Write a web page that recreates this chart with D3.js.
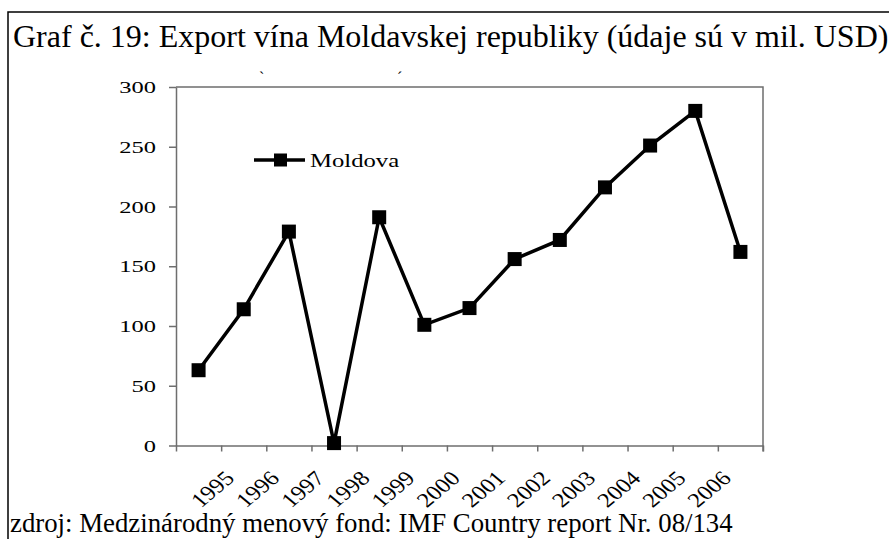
<!DOCTYPE html>
<html lang="sk">
<head>
<meta charset="utf-8">
<script src="https://d3js.org/d3.v7.min.js"></script>
<style>
body { margin: 0; background: #fff; }
svg { display: block; font-family: "Liberation Serif", "Times New Roman", serif; }
.axis path, .axis line { stroke: #6e6e6e; stroke-width: 1.5; }
.series { fill: none; stroke: #000; stroke-width: 3.5; stroke-linejoin: miter; }
</style>
</head>
<body>
<div id="chart"></div>
<script>
// chart data
var yearLabels = ["1995", "1996", "1997", "1998", "1999", "2000",
                  "2001", "2002", "2003", "2004", "2005", "2006"];
var exportValues = [63, 114, 179, 2, 191, 101, 115, 156, 172, 216, 251, 280, 162];
var yTicks = [0, 50, 100, 150, 200, 250, 300];
var seriesName = "Moldova";
var titleText = "Graf č. 19: Export vína Moldavskej republiky (údaje sú v mil. USD)";
var sourceText = "zdroj: Medzinárodný menový fond: IMF Country report Nr. 08/134";

var width = 889,
    height = 539,
    plot = {left: 176, right: 763, top: 87, bottom: 445.5};

var svg = d3.select("#chart")
    .append("svg")
    .attr("width", width)
    .attr("height", height);

// frame round the figure (top and left edge only)
svg.append("path")
    .attr("d", "M8,539V12H889")
    .attr("fill", "none")
    .attr("stroke", "#000")
    .attr("stroke-width", 1.5);

svg.append("text")
    .attr("x", 13)
    .attr("y", 47)
    .attr("font-size", 32)
    .text(titleText);

svg.append("text")
    .attr("x", 10)
    .attr("y", 532)
    .attr("font-size", 26.8)
    .text(sourceText);

var x = d3.scaleLinear()
    .domain([0, exportValues.length])
    .range([plot.left, plot.right]);

var y = d3.scaleLinear()
    .domain([0, 300])
    .range([plot.bottom, plot.top]);

// plot border top and right
svg.append("path")
    .attr("d", "M" + plot.left + "," + plot.top + "H" + plot.right + "V" + (plot.bottom + 6))
    .attr("fill", "none")
    .attr("stroke", "#6e6e6e")
    .attr("stroke-width", 1.5);

var yAxis = svg.append("g")
    .attr("class", "axis")
    .attr("transform", "translate(" + plot.left + ",0)")
    .call(d3.axisLeft(y).tickValues(yTicks).tickSize(7).tickSizeOuter(0));

// the lettering is drawn wide in the original
yAxis.selectAll("text")
    .attr("x", null)
    .style("font-family", "'Liberation Serif', serif")
    .style("font-size", "17.5px")
    .attr("fill", "#000")
    .attr("transform", "translate(-20,0) scale(1.4,1)");

var xAxis = svg.append("g")
    .attr("class", "axis")
    .attr("transform", "translate(0," + plot.bottom + ")")
    .call(d3.axisBottom(x)
        .tickValues(d3.range(0, exportValues.length + 1))
        .tickSize(6)
        .tickSizeOuter(0)
        .tickFormat(function (i) { return yearLabels[i - 1] || ""; }));

xAxis.selectAll("text")
    .attr("y", null)
    .attr("dy", null)
    .style("font-family", "'Liberation Serif', serif")
    .style("font-size", "20.5px")
    .attr("fill", "#000")
    .attr("text-anchor", "end")
    .attr("transform", "translate(14,34) scale(1.2,1) rotate(-45)");

var line = d3.line()
    .x(function (d, i) { return x(i + 0.5); })
    .y(function (d) { return y(d); });

svg.append("path")
    .datum(exportValues)
    .attr("class", "series")
    .attr("d", line);

svg.selectAll(".marker")
    .data(exportValues)
    .enter()
    .append("rect")
    .attr("class", "marker")
    .attr("x", function (d, i) { return x(i + 0.5) - 7; })
    .attr("y", function (d) { return y(d) - 7; })
    .attr("width", 14)
    .attr("height", 14)
    .attr("fill", "#000");

// legend
var legend = svg.append("g")
    .attr("transform", "translate(254,160)");

legend.append("line")
    .attr("x1", 0)
    .attr("x2", 51)
    .attr("stroke", "#000")
    .attr("stroke-width", 3.5);

legend.append("rect")
    .attr("x", 20)
    .attr("y", -6.5)
    .attr("width", 13)
    .attr("height", 13)
    .attr("fill", "#000");

legend.append("text")
    .attr("x", 0)
    .attr("y", 0)
    .attr("dy", "0.35em")
    .attr("font-size", 19)
    .attr("transform", "translate(56,0) scale(1.3,1)")
    .text(seriesName);

// small leftover accent marks above the plot
svg.append("text")
    .attr("x", 259)
    .attr("y", 83)
    .attr("font-size", 16)
    .text("`");

svg.append("text")
    .attr("x", 397)
    .attr("y", 83)
    .attr("font-size", 16)
    .text("´");
</script>
</body>
</html>
